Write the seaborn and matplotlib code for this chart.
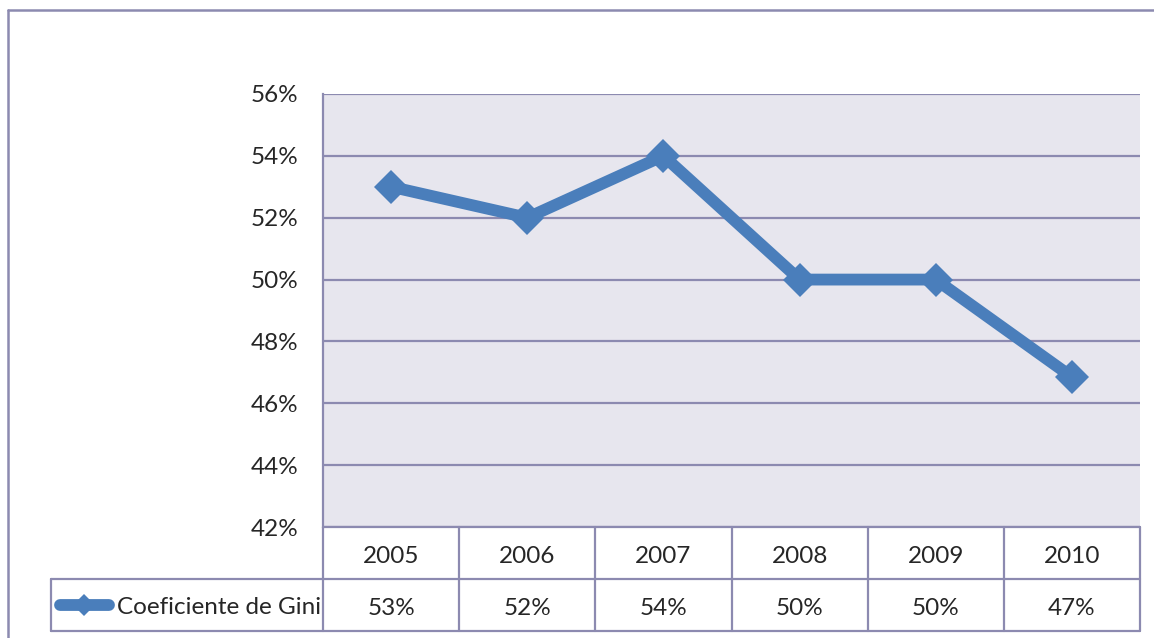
import numpy as np
import matplotlib
matplotlib.use("Agg")
import matplotlib.pyplot as plt
from matplotlib.lines import Line2D
from matplotlib.ticker import PercentFormatter
import seaborn as sns

# data
years = ["2005", "2006", "2007", "2008", "2009", "2010"]
gini = [0.53, 0.52, 0.54, 0.50, 0.50, 0.4685]
series_name = "Coeficiente de Gini"
y_ticks = [0.42, 0.44, 0.46, 0.48, 0.50, 0.52, 0.54, 0.56]

sns.set_style("white")
plt.rcParams["font.family"] = ["Lato", "DejaVu Sans"]

W, H = 1154, 638
line_col = "#4A7EBB"
grid_col = "#8C8AB0"
bg_col = "#E7E6EE"
fs = 17.5

fig = plt.figure(figsize=(W / 100, H / 100), dpi=100)

# plot area in pixel bounds
x0, x1, y_top, y_bot = 323, 1140, 94, 527
ax = fig.add_axes([x0 / W, 1 - y_bot / H, (x1 - x0) / W, (y_bot - y_top) / H])
ax.set_facecolor(bg_col)

xpos = np.arange(len(years))
sns.lineplot(x=xpos, y=gini, ax=ax, color=line_col, linewidth=8.5,
             marker="D", markersize=17, markeredgewidth=0, markerfacecolor=line_col)

ax.set_xlim(-0.5, len(years) - 0.5)
ax.set_ylim(y_ticks[0], y_ticks[-1])
ax.set_yticks(y_ticks)
ax.yaxis.set_major_formatter(PercentFormatter(xmax=1, decimals=0))
ax.set_xticks([])
ax.tick_params(axis="y", length=0, pad=18, labelsize=fs)
ax.grid(axis="y", color=grid_col, linewidth=1.6)
ax.set_axisbelow(True)
for side in ["right", "bottom", "top"]:
    ax.spines[side].set_visible(False)
ax.spines["left"].set_color(grid_col)
ax.spines["left"].set_linewidth(1.6)
ax.set_xlabel("")
ax.set_ylabel("")

# data table under the plot
t_bot = 631
tab = fig.add_axes([x0 / W, 1 - t_bot / H, (x1 - x0) / W, (t_bot - y_bot) / H])
tab.set_xlim(-0.5, len(years) - 0.5)
tab.set_ylim(0, 2)
tab.axis("off")
n = len(years)
left_edge = -2.5
kw = dict(color=grid_col, linewidth=1.6, clip_on=False)
tab.plot([-0.5, n - 0.5], [2, 2], **kw)
tab.plot([left_edge, n - 0.5], [1, 1], **kw)
tab.plot([left_edge, n - 0.5], [0, 0], **kw)
tab.plot([left_edge, left_edge], [0, 1], **kw)
for i in range(n + 1):
    tab.plot([i - 0.5, i - 0.5], [0, 2], **kw)
for i, (yr, v) in enumerate(zip(years, gini)):
    tab.text(i, 1.44, yr, ha="center", va="center", fontsize=fs)
    tab.text(i, 0.44, f"{v:.0%}", ha="center", va="center", fontsize=fs)

# legend key inside the table
tab.plot([-2.43, -2.07], [0.5, 0.5], color=line_col, linewidth=8.5,
         solid_capstyle="round", clip_on=False)
tab.plot([-2.255], [0.5], marker="D", markersize=11, color=line_col,
         markeredgewidth=0, clip_on=False)
tab.text(-2.015, 0.46, series_name, ha="left", va="center", fontsize=fs)

# outer chart frame
fig.add_artist(Line2D([8 / W, 8 / W], [0, 1 - 10 / H], color=grid_col, linewidth=1.8))
fig.add_artist(Line2D([8 / W, 1], [1 - 10 / H, 1 - 10 / H], color=grid_col, linewidth=1.8))

fig.savefig("out.png", dpi=100)
